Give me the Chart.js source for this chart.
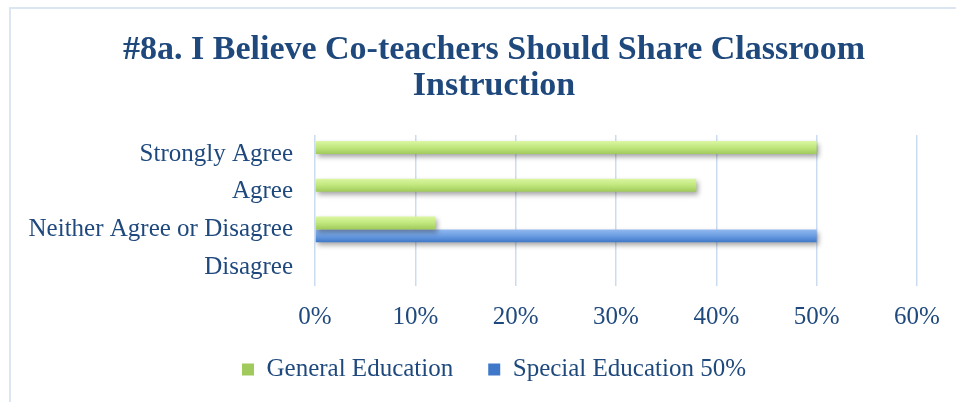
<!DOCTYPE html>
<html>
<head>
<meta charset="utf-8">
<script src="https://cdn.jsdelivr.net/npm/chart.js@4/dist/chart.umd.min.js"></script>
<style>
    html, body { margin: 0; padding: 0; background: #ffffff; overflow: hidden; }
    #box {
        position: absolute; left: 9px; top: 7px;
        width: 966px; height: 420px;
        border: 2px solid #DCE6F2;
        background: #ffffff;
    }
    #board { display: block; }
</style>
</head>
<body>
<div id="box"><canvas id="board" width="966" height="393"></canvas></div>
<script>
var categories = ['Strongly Agree', 'Agree', 'Neither Agree or Disagree', 'Disagree'];
var generalEd = [50, 38, 12, 0];
var specialEd = [0, 0, 50, 0];
var seriesNames = ['General Education', 'Special Education 50%'];
var tickLabels = ['0%', '10%', '20%', '30%', '40%', '50%', '60%'];

var textColor = '#1F497D';
var serif = "'Liberation Serif', 'DejaVu Serif', serif";
var catPct = 0.68;

// vertical gradient for one bar, worked out from the category scale
function barGradient(c, stops, flat) {
    const chart = c.chart;
    const y = chart.scales && chart.scales.y;
    if (c.type !== 'data' || !chart.chartArea || !y) {
        return flat;
    }
    const mid = y.getPixelForValue(c.dataIndex);
    const step = Math.abs(y.getPixelForValue(1) - y.getPixelForValue(0));
    const thick = step * catPct / 2;
    if (!isFinite(mid) || !isFinite(thick) || thick <= 0) {
        return flat;
    }
    const top = mid - thick + c.datasetIndex * thick;
    const g = chart.ctx.createLinearGradient(0, top, 0, top + thick);
    g.addColorStop(0, stops[0]);
    g.addColorStop(0.5, stops[1]);
    g.addColorStop(1, stops[2]);
    return g;
}

// soft drop shadow under the bars
const barShadow = {
    id: 'barShadow',
    afterLayout(chart) {
        // let the x tick labels hang below their (short) axis box
        chart.scales.x.bottom += 14;
    },
    beforeDatasetsDraw(chart) {
        const ctx = chart.ctx;
        ctx.save();
        ctx.shadowColor = 'rgba(0,0,0,0.35)';
        ctx.shadowBlur = 5;
        ctx.shadowOffsetX = 2;
        ctx.shadowOffsetY = 3;
    },
    afterDatasetsDraw(chart) {
        chart.ctx.restore();
    }
};

const ctx = document.getElementById('board').getContext('2d');
window.myChart = new Chart(ctx, {
    type: 'bar',
    data: {
        labels: categories,
        datasets: [{
            label: seriesNames[0],
            data: generalEd,
            backgroundColor: c => barGradient(c, ['#DAF6A2', '#C0E77C', '#A0CA5C'], '#BDE07C'),
            borderWidth: 0,
            categoryPercentage: catPct,
            barPercentage: 1.0
        }, {
            label: seriesNames[1],
            data: specialEd,
            backgroundColor: c => barGradient(c, ['#92B9F0', '#6C9DE2', '#3F78C9'], '#7EA9E8'),
            borderWidth: 0,
            categoryPercentage: catPct,
            barPercentage: 1.0
        }]
    },
    options: {
        indexAxis: 'y',
        responsive: false,
        animation: false,
        layout: {
            padding: { left: 0, right: 0, top: 0, bottom: 10 }
        },
        plugins: {
            title: {
                display: true,
                text: ['#8a. I Believe Co-teachers Should Share Classroom', 'Instruction'],
                color: textColor,
                font: { family: serif, size: 34, weight: 'bold', lineHeight: 1.06 },
                padding: { top: 23, bottom: 31 }
            },
            legend: {
                position: 'bottom',
                labels: {
                    color: textColor,
                    font: { family: serif, size: 25 },
                    boxWidth: 12,
                    boxHeight: 12,
                    padding: 35
                }
            },
            tooltip: { enabled: false }
        },
        scales: {
            x: {
                min: 0,
                max: 60,
                ticks: {
                    stepSize: 10,
                    color: textColor,
                    font: { family: serif, size: 25 },
                    padding: 16,
                    callback: (v, i) => tickLabels[i]
                },
                grid: { color: '#CCDCF0', lineWidth: 1.5, drawTicks: false },
                border: { display: false },
                afterFit: scale => { scale.height = 36; }
            },
            y: {
                ticks: {
                    color: textColor,
                    font: { family: serif, size: 25 },
                    padding: 22
                },
                grid: { display: false, drawTicks: false },
                border: { display: false },
                afterFit: scale => { scale.width = 304; }
            },
            // empty spacer on the right so the plot stops at 60%
            spacer: {
                type: 'linear',
                position: 'right',
                display: true,
                ticks: { display: false },
                grid: { display: false, drawTicks: false },
                border: { display: false },
                afterFit: scale => { scale.width = 60; }
            }
        }
    },
    plugins: [barShadow]
});
</script>
</body>
</html>
